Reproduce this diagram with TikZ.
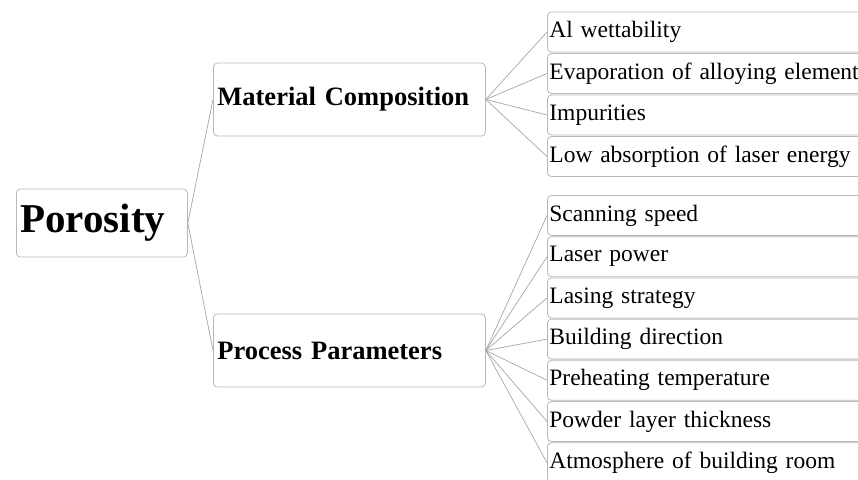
\documentclass[tikz,border=0pt]{standalone}
\usepackage{fontspec}
\setmainfont{Liberation Serif}
\usetikzlibrary{shapes}

\tikzset{
  box/.style={shape=rectangle,draw=black!28,rounded corners=4pt,line width=0.8pt,anchor=west,align=left,inner sep=4pt},
  root/.style={box,font=\bfseries\fontsize{41}{45}\selectfont,text width=163pt,minimum height=68pt},
  branch/.style={box,font=\bfseries\fontsize{26.5}{30}\selectfont,text width=264pt,minimum height=73pt},
  leaf/.style={box,font=\fontsize{23.5}{27}\selectfont,text width=340pt,minimum height=40pt,inner sep=2pt},
  link/.style={-,draw=black!35,line width=0.7pt}
}

\begin{document}
\begin{tikzpicture}[x=1pt,y=-1pt]
\useasboundingbox (0,0) rectangle (858,479);
\clip (0,0) rectangle (858,479);

\node[root] (0) at (16,223) {Porosity};
\node[branch] (1) at (213,99.5) {Material Composition};
\node[branch] (2) at (213,350.5) {Process Parameters};

\node[leaf] (3) at (547,32) {Al wettability};
\node[leaf] (4) at (547,73.5) {Evaporation of alloying elements};
\node[leaf] (5) at (547,115) {Impurities};
\node[leaf] (6) at (547,156.5) {Low absorption of laser energy};

\node[leaf] (7) at (547,215.5) {Scanning speed};
\node[leaf] (8) at (547,256.7) {Laser power};
\node[leaf] (9) at (547,297.9) {Lasing strategy};
\node[leaf] (10) at (547,339.1) {Building direction};
\node[leaf] (11) at (547,380.3) {Preheating temperature};
\node[leaf] (12) at (547,421.5) {Powder layer thickness};
\node[leaf] (13) at (547,462.7) {Atmosphere of building room};

\path [link] (0.east) edge (1.west);
\path [link] (0.east) edge (2.west);
\path [link] (1.east) edge (3.west);
\path [link] (1.east) edge (4.west);
\path [link] (1.east) edge (5.west);
\path [link] (1.east) edge (6.west);
\path [link] (2.east) edge (7.west);
\path [link] (2.east) edge (8.west);
\path [link] (2.east) edge (9.west);
\path [link] (2.east) edge (10.west);
\path [link] (2.east) edge (11.west);
\path [link] (2.east) edge (12.west);
\path [link] (2.east) edge (13.west);
\end{tikzpicture}
\end{document}
